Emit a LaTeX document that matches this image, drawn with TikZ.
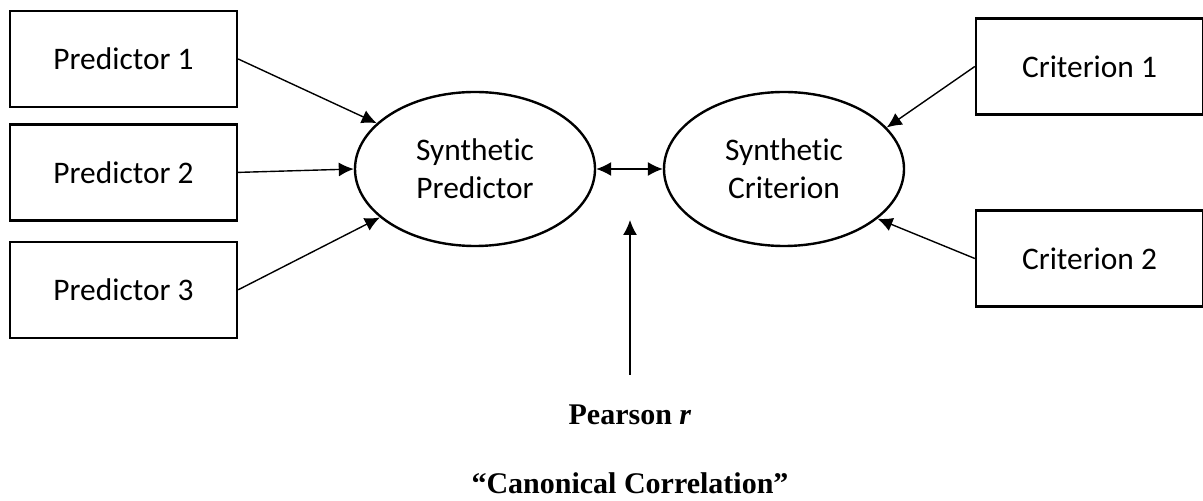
\documentclass[tikz,border=0pt]{standalone}
\usepackage{fontspec}
\setmainfont{Carlito}[Ligatures=NoCommon]
\newfontfamily\timesbf{Liberation Serif}
\usetikzlibrary{arrows.meta,positioning,shapes.geometric}

\begin{document}
\begin{tikzpicture}[x=0.5pt,y=-0.5pt,->,>={Latex[length=7.5pt,width=7pt]},
                    line width=0.7pt,
                    every node/.style={font=\fontsize{15.7}{18.8}\selectfont}]
  \tikzstyle{var}=[draw,line width=1.2pt,minimum width=113.5pt,minimum height=48pt,inner sep=0pt]
  \tikzstyle{synth}=[draw,ellipse,line width=1.2pt,minimum width=120pt,minimum height=77pt,
                     inner sep=0pt,align=center]
  \tikzstyle{caption}=[font=\timesbf\fontsize{15}{18}\selectfont\bfseries]

  \useasboundingbox (0,0) rectangle (1203,501);

  \node[var]   (p1) at (123.5,59)         {Predictor 1};
  \node[var]   (p2) [below=7.5pt of p1]   {Predictor 2};
  \node[var]   (p3) [below=9.5pt of p2]   {Predictor 3};
  \node[synth] (sp) at (475,169)          {Synthetic\\Predictor};
  \node[synth] (sc) at (784,169)          {Synthetic\\Criterion};
  \node[var]   (c1) at (1089.5,66.5)      {Criterion 1};
  \node[var]   (c2) at (1089.5,258.5)     {Criterion 2};

  \node[caption] (pr) at (630,415) {Pearson \textit{r}};
  \node[caption] (cc) at (630,483) {“Canonical Correlation”};
  \coordinate (rfoot) at (630,375);
  \coordinate (rtip)  at (630,220);

  \draw (p1.east) -- (sp.155);
  \draw (p2.east) -- (sp.180);
  \draw (p3.east) -- (sp.207);
  \draw (c1.west) -- (sc.22);
  \draw (c2.west) -- (sc.332);
  \draw[<->] (sp) -- (sc);
  \draw (rfoot) -- (rtip);
\end{tikzpicture}
\end{document}
